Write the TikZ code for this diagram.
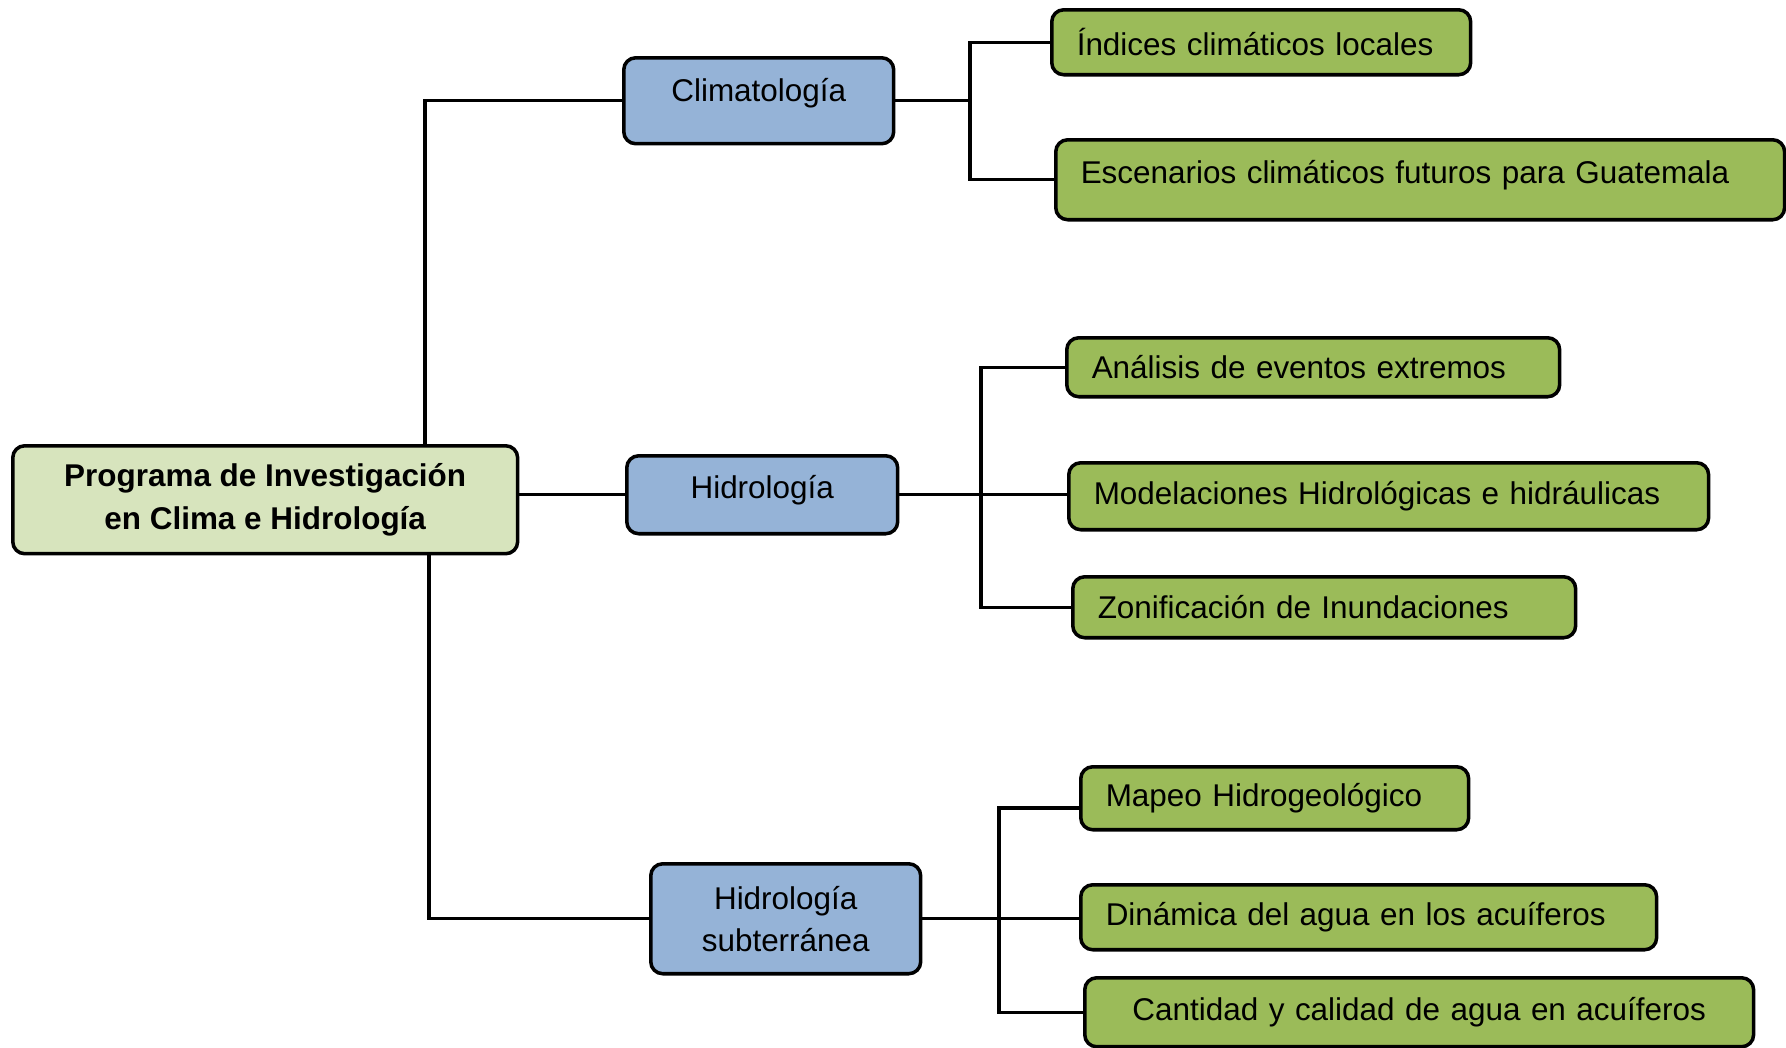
\documentclass[tikz,border=0pt]{standalone}
\usepackage{fontspec}
\setmainfont{Liberation Sans}
\usetikzlibrary{positioning}
\definecolor{rootGreen}{HTML}{D7E4BD}
\definecolor{topicBlue}{HTML}{95B3D7}
\definecolor{leafGreen}{HTML}{9BBB59}
\newcommand{\boxFont}[0]{\fontsize{17.9}{24}\selectfont}

\begin{document}
\begin{tikzpicture}[x=0.02cm, y=-0.02cm]
  \tikzset{every box/.style={draw, line width=2pt, rounded corners=0.24cm, font=\boxFont, anchor=north west},
    root box/.style={every box, fill=rootGreen, font=\boxFont\bfseries, align=center, inner sep=0pt},
    topic box/.style={every box, fill=topicBlue, align=center, inner sep=0pt},
    leaf box/.style={every box, fill=leafGreen, align=left, inner xsep=0.5cm, inner ysep=0pt},
    link/.style={line width=1.8pt}}
  \useasboundingbox (0,0) rectangle (1786,1048);
  \node[root box, minimum width=10.10cm, minimum height=2.16cm] (root) at (11,444) {Programa de Investigación\\en Clima e Hidrología};
  \node[topic box, minimum width=5.40cm, minimum height=1.72cm, text depth=0.45cm] (clim) at (622,56) {Climatología};
  \node[topic box, minimum width=5.42cm, minimum height=1.56cm, text depth=0.33cm] (hidro) at (625,454) {Hidrología};
  \node[topic box, minimum width=5.40cm, minimum height=2.20cm] (sub) at (649,862) {Hidrología\\subterránea};
  \node[leaf box, text width=7.38cm, minimum height=1.30cm] (indices) at (1050,8) {Índices climáticos locales};
  \node[leaf box, text width=13.58cm, minimum height=1.60cm, text depth=0.33cm] (escen) at (1054,138) {Escenarios climáticos futuros para Guatemala};
  \node[leaf box, text width=8.86cm, minimum height=1.18cm] (anal) at (1065,336) {Análisis de eventos extremos};
  \node[leaf box, text width=11.80cm, minimum height=1.34cm] (model) at (1067,461) {Modelaciones Hidrológicas e hidráulicas};
  \node[leaf box, text width=9.06cm, minimum height=1.22cm] (zonif) at (1071,575) {Zonificación de Inundaciones};
  \node[leaf box, text width=6.76cm, minimum height=1.26cm] (mapeo) at (1079,765) {Mapeo Hidrogeológico};
  \node[leaf box, text width=10.52cm, minimum height=1.30cm] (dinam) at (1079,883) {Dinámica del agua en los acuíferos};
  \node[leaf box, text width=12.38cm, minimum height=1.38cm, align=center] (cantidad) at (1083,976) {Cantidad y calidad de agua en acuíferos};
  \coordinate (upTrunk) at (425,0);
  \coordinate (downTrunk) at (429,0);
  \coordinate (climFork) at (970,0);
  \coordinate (hidroFork) at (981,0);
  \coordinate (subFork) at (999,0);
  \coordinate (mapeoIn) at (1079,808);
  \draw[link] (root.north -| upTrunk) |- (clim.west);
  \draw[link] (root.east |- hidro.west) -- (hidro.west);
  \draw[link] (root.south -| downTrunk) |- (sub.west);
  \draw[link] (clim.east) -- (clim.east -| climFork);
  \draw[link] (indices.west) -| (climFork |- escen.west) -- (escen.west);
  \draw[link] (hidro.east) -- (hidro.east -| model.west);
  \draw[link] (anal.west) -| (hidroFork |- zonif.west) -- (zonif.west);
  \draw[link] (sub.east) -- (sub.east -| dinam.west);
  \draw[link] (mapeoIn) -| (subFork |- cantidad.west) -- (cantidad.west);
\end{tikzpicture}
\end{document}
